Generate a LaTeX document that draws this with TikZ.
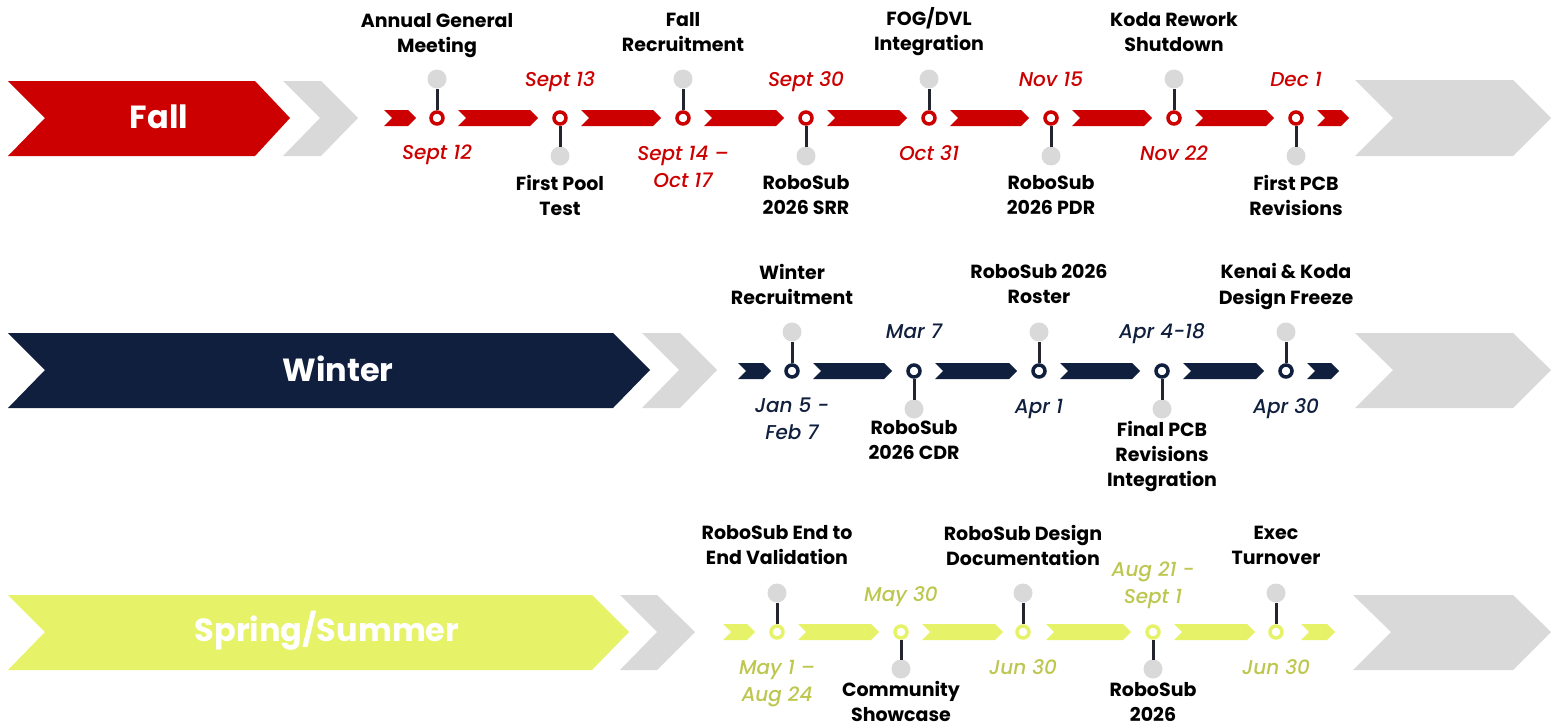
\documentclass[tikz,border=0pt]{standalone}
\usepackage{fontspec}
\setmainfont{Poppins}
\newfontfamily\datefont{Poppins}[UprightFont=* Medium Italic]
\definecolor{fallred}{RGB}{204,0,0}
\definecolor{winternavy}{RGB}{15,31,61}
\definecolor{springlime}{RGB}{230,243,104}
\definecolor{springdate}{RGB}{189,199,79}
\definecolor{chevgrey}{RGB}{217,217,217}
\definecolor{stemdark}{RGB}{34,37,46}
\newcommand{\tlseg}[4]{\fill[#1] (#2,{#4-8}) -- ({#3-8},{#4-8}) -- (#3,#4) -- ({#3-8},{#4+8}) -- (#2,{#4+8}) -- ({#2+8},#4) -- cycle;}

\begin{document}
\begin{tikzpicture}[x=1pt,y=-1pt,
  milestone/.style={circle,draw=#1,fill=white,line width=3.5pt,minimum size=12pt,inner sep=0pt,outer sep=1.75pt},
  greydot/.style={circle,fill=chevgrey,minimum size=19pt,inner sep=0pt,outer sep=0pt},
  stem/.style={stemdark,line width=3pt},
  evtitle/.style={font=\bfseries\fontsize{19}{25}\selectfont,align=center,text=black},
  evdate/.style={font=\datefont\fontsize{20}{27}\selectfont,align=center,text=#1},
  season/.style={font=\bfseries\fontsize{32}{38}\selectfont,text=white}]
\useasboundingbox (0,0) rectangle (1557,725);

% Fall
\fill[fallred] (8,81) -- (255,81) -- (290,118) -- (255,156) -- (8,156) -- (45,118) -- cycle;
\fill[chevgrey] (283,81) -- (321,81) -- (358,118) -- (321,156) -- (283,156) -- (320,118) -- cycle;
\fill[chevgrey] (1355,80) -- (1513,80) -- (1551,118) -- (1513,156) -- (1355,156) -- (1393,118) -- cycle;
\node[season] (fall) at (159,117) {Fall};
\tlseg{fallred}{384}{416}{118}
\tlseg{fallred}{458}{538}{118}
\tlseg{fallred}{581}{661}{118}
\tlseg{fallred}{704}{784}{118}
\tlseg{fallred}{827}{907}{118}
\tlseg{fallred}{950}{1029}{118}
\tlseg{fallred}{1072}{1152}{118}
\tlseg{fallred}{1195}{1274}{118}
\tlseg{fallred}{1317}{1349}{118}

\node[milestone=fallred] (f1) at (437,118) {};
\node[greydot] (f1d) at (437,79) {};
\draw[stem] (f1) -- (f1d);
\node[evtitle] (f1t) at (437,35.5) {Annual General\\Meeting};
\node[evdate=fallred] (f1a) at (437,155) {Sept 12};

\node[milestone=fallred] (f2) at (560,118) {};
\node[greydot] (f2d) at (560,156) {};
\draw[stem] (f2) -- (f2d);
\node[evdate=fallred] (f2a) at (560,82) {Sept 13};
\node[evtitle] (f2t) at (560,195.5) {First Pool\\Test};

\node[milestone=fallred] (f3) at (683,118) {};
\node[greydot] (f3d) at (683,79) {};
\draw[stem] (f3) -- (f3d);
\node[evtitle] (f3t) at (683,32) {Fall\\Recruitment};
\node[evdate=fallred] (f3a) at (683,167) {Sept 14 –\\Oct 17};

\node[milestone=fallred] (f4) at (806,118) {};
\node[greydot] (f4d) at (806,156) {};
\draw[stem] (f4) -- (f4d);
\node[evdate=fallred] (f4a) at (806,82) {Sept 30};
\node[evtitle] (f4t) at (806,195.5) {RoboSub\\2026 SRR};

\node[milestone=fallred] (f5) at (929,118) {};
\node[greydot] (f5d) at (929,79) {};
\draw[stem] (f5) -- (f5d);
\node[evtitle] (f5t) at (929,32) {FOG/DVL\\Integration};
\node[evdate=fallred] (f5a) at (929,153) {Oct 31};

\node[milestone=fallred] (f6) at (1051,118) {};
\node[greydot] (f6d) at (1051,156) {};
\draw[stem] (f6) -- (f6d);
\node[evdate=fallred] (f6a) at (1051,79) {Nov 15};
\node[evtitle] (f6t) at (1051,195.5) {RoboSub\\2026 PDR};

\node[milestone=fallred] (f7) at (1174,118) {};
\node[greydot] (f7d) at (1174,79) {};
\draw[stem] (f7) -- (f7d);
\node[evtitle] (f7t) at (1174,32) {Koda Rework\\Shutdown};
\node[evdate=fallred] (f7a) at (1174,153) {Nov 22};

\node[milestone=fallred] (f8) at (1296,118) {};
\node[greydot] (f8d) at (1296,156) {};
\draw[stem] (f8) -- (f8d);
\node[evdate=fallred] (f8a) at (1296,79) {Dec 1};
\node[evtitle] (f8t) at (1296,195.5) {First PCB\\Revisions};

% Winter
\fill[winternavy] (8,333) -- (613,333) -- (650,370) -- (613,408) -- (8,408) -- (45,370) -- cycle;
\fill[chevgrey] (642,333) -- (680,333) -- (717,370) -- (680,408) -- (642,408) -- (679,370) -- cycle;
\fill[chevgrey] (1355,333) -- (1513,333) -- (1551,370) -- (1513,408) -- (1355,408) -- (1393,370) -- cycle;
\node[season] (winter) at (338,369) {Winter};
\tlseg{winternavy}{738}{771}{371}
\tlseg{winternavy}{813}{892}{371}
\tlseg{winternavy}{935}{1017}{371}
\tlseg{winternavy}{1060}{1140}{371}
\tlseg{winternavy}{1183}{1264}{371}
\tlseg{winternavy}{1307}{1339}{371}

\node[milestone=winternavy] (w1) at (792,371) {};
\node[greydot] (w1d) at (792,332) {};
\draw[stem] (w1) -- (w1d);
\node[evtitle] (w1t) at (792,284) {Winter\\Recruitment};
\node[evdate=winternavy] (w1a) at (792,419) {Jan 5 -\\Feb 7};

\node[milestone=winternavy] (w2) at (914,371) {};
\node[greydot] (w2d) at (914,409) {};
\draw[stem] (w2) -- (w2d);
\node[evdate=winternavy] (w2a) at (914,331) {Mar 7};
\node[evtitle] (w2t) at (914,440.5) {RoboSub\\2026 CDR};

\node[milestone=winternavy] (w3) at (1039,371) {};
\node[greydot] (w3d) at (1039,332) {};
\draw[stem] (w3) -- (w3d);
\node[evtitle] (w3t) at (1039,284) {RoboSub 2026\\Roster};
\node[evdate=winternavy] (w3a) at (1039,409) {Apr 1};

\node[milestone=winternavy] (w4) at (1162,371) {};
\node[greydot] (w4d) at (1162,409) {};
\draw[stem] (w4) -- (w4d);
\node[evdate=winternavy] (w4a) at (1162,334) {Apr 4-18};
\node[evtitle] (w4t) at (1162,456) {Final PCB\\Revisions\\Integration};

\node[milestone=winternavy] (w5) at (1286,371) {};
\node[greydot] (w5d) at (1286,332) {};
\draw[stem] (w5) -- (w5d);
\node[evtitle] (w5t) at (1286,286.5) {Kenai \& Koda\\Design Freeze};
\node[evdate=winternavy] (w5a) at (1286,409) {Apr 30};

% Spring/Summer
\fill[springlime] (8,595) -- (592,595) -- (629,632) -- (592,670) -- (8,670) -- (45,632) -- cycle;
\fill[chevgrey] (620,595) -- (657,595) -- (695,632) -- (657,670) -- (620,670) -- (657,632) -- cycle;
\fill[chevgrey] (1353,595) -- (1513,595) -- (1551,632) -- (1513,670) -- (1353,670) -- (1391,632) -- cycle;
\node[season] (spring) at (327,631) {Spring/Summer};
\tlseg{springlime}{723}{755}{632}
\tlseg{springlime}{798}{879}{632}
\tlseg{springlime}{922}{1003}{632}
\tlseg{springlime}{1046}{1131}{632}
\tlseg{springlime}{1174}{1255}{632}
\tlseg{springlime}{1301}{1335}{632}

\node[milestone=springlime] (s1) at (777,632) {};
\node[greydot] (s1d) at (777,593) {};
\draw[stem] (s1) -- (s1d);
\node[evtitle] (s1t) at (777,545.5) {RoboSub End to\\End Validation};
\node[evdate=springdate] (s1a) at (777,683.5) {May 1 –\\Aug 24};

\node[milestone=springlime] (s2) at (901,632) {};
\node[greydot] (s2d) at (901,669) {};
\draw[stem] (s2) -- (s2d);
\node[evdate=springdate] (s2a) at (901,597) {May 30};
\node[evtitle] (s2t) at (901,701) {Community\\Showcase};

\node[milestone=springlime] (s3) at (1023,632) {};
\node[greydot] (s3d) at (1023,593) {};
\draw[stem] (s3) -- (s3d);
\node[evtitle] (s3t) at (1023,545.5) {RoboSub Design\\Documentation};
\node[evdate=springdate] (s3a) at (1023,667) {Jun 30};

\node[milestone=springlime] (s4) at (1153,632) {};
\node[greydot] (s4d) at (1153,669) {};
\draw[stem] (s4) -- (s4d);
\node[evdate=springdate] (s4a) at (1153,585.5) {Aug 21 -\\Sept 1};
\node[evtitle] (s4t) at (1153,701.5) {RoboSub\\2026};

\node[milestone=springlime] (s5) at (1276,632) {};
\node[greydot] (s5d) at (1276,593) {};
\draw[stem] (s5) -- (s5d);
\node[evtitle] (s5t) at (1276,545.5) {Exec\\Turnover};
\node[evdate=springdate] (s5a) at (1276,667) {Jun 30};
\end{tikzpicture}
\end{document}
